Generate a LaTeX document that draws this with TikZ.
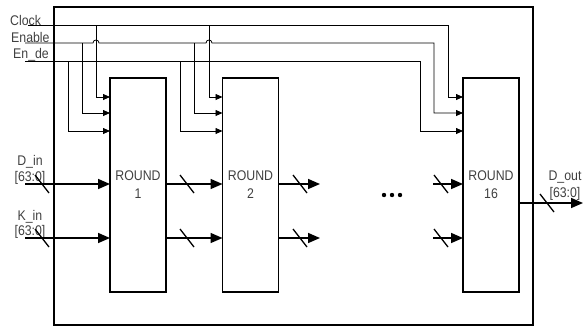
\documentclass[tikz,border=0pt]{standalone}
\usepackage{fontspec}
\setmainfont{Liberation Sans}[FakeStretch=0.88]
\usetikzlibrary{arrows.meta}
\begin{document}
\begin{tikzpicture}[x=1pt,y=-1pt,
  txt/.style={text=black!75,font=\fontsize{14}{18}\selectfont,inner sep=0pt},
  roundbox/.style={draw,line width=1.6pt,minimum width=56pt,minimum height=214pt,inner sep=0pt,outer sep=0pt,align=center,txt},
  frame/.style={draw,line width=1.6pt,minimum width=479pt,minimum height=318pt,inner sep=0pt,outer sep=0pt},
  ctl/.style={line width=0.8pt,-{Triangle[length=7pt,width=6pt]}},
  bus/.style={line width=1.6pt,-{Triangle[length=12pt,width=10pt]}},
  sl/.style={line width=1.3pt},
  dot/.style={fill=black}]
\useasboundingbox (0,0) rectangle (583,327);
% frame and round boxes
\node[frame] (outer) at (293.5,166) {};
\node[roundbox] (r1) at (138,185) {ROUND\\1};
\node[roundbox] (r2) at (250.5,185) {ROUND\\2};
\node[roundbox] (r16) at (491,185) {ROUND\\16};
% control labels and line starts
\node[txt,anchor=base west] (lclk) at (10,25) {Clock};
\node[txt,anchor=base west] (lenb) at (11,42) {Enable};
\node[txt,anchor=base west] (lede) at (13,58) {En\_de};
\coordinate (clk) at (28,25);
\coordinate (en) at (25,43);
\coordinate (ed) at (25,61);
% clock
\draw[ctl] (clk) -- (448,25) |- (r16.west |- 0,97);
\draw[ctl] (96,25) |- (r1.west |- 0,97);
\draw[ctl] (209,25) |- (r2.west |- 0,97);
% enable (with hops over the clock lines)
\draw[ctl] (en) -- (93,43) .. controls (93,39) and (99,39) .. (99,43)
  -- (206,43) .. controls (206,39) and (212,39) .. (212,43)
  -- (434,43) |- (r16.west |- 0,113);
\draw[ctl] (82,43) |- (r1.west |- 0,113);
\draw[ctl] (194,43) |- (r2.west |- 0,113);
% en_de
\draw[ctl] (ed) -- (420,61) |- (r16.west |- 0,131);
\draw[ctl] (68,61) |- (r1.west |- 0,131);
\draw[ctl] (180,61) |- (r2.west |- 0,131);
% data inputs
\node[txt,anchor=base] (ldin) at (30,165) {D\_in};
\node[txt,anchor=base] (ldinb) at (30,181) {[63:0]};
\node[txt,anchor=base] (lkin) at (30,220) {K\_in};
\node[txt,anchor=base] (lkinb) at (30,235) {[63:0]};
\coordinate (din) at (25,184);
\coordinate (kin) at (25,238);
\draw[bus] (din) -- (r1.west |- din);
\draw[bus] (kin) -- (r1.west |- kin);
\draw[bus] (r1.east |- din) -- (r2.west |- din);
\draw[bus] (r1.east |- kin) -- (r2.west |- kin);
\coordinate (a1) at (320,184);
\coordinate (a2) at (320,238);
\draw[bus] (r2.east |- din) -- (a1);
\draw[bus] (r2.east |- kin) -- (a2);
\coordinate (b1) at (433,184);
\coordinate (b2) at (433,238);
\draw[bus] (b1) -- (r16.west |- din);
\draw[bus] (b2) -- (r16.west |- kin);
% output
\coordinate (dout) at (583,203);
\draw[bus] (r16.east |- dout) -- (dout);
\node[txt,anchor=base] (ldout) at (565,180) {D\_out};
\node[txt,anchor=base] (ldoutb) at (565,197.5) {[63:0]};
% bus width slashes
\foreach \p in {(42,184),(42,238),(187,184),(187,238),(300,184),(300,238),(441,184),(441,238),(547,203)}
  \draw[sl] \p ++(-7,-9) -- ++(14,18);
% ellipsis
\fill[dot] (384,195) circle (2.2);
\fill[dot] (392,195) circle (2.2);
\fill[dot] (400,195) circle (2.2);
\end{tikzpicture}
\end{document}
